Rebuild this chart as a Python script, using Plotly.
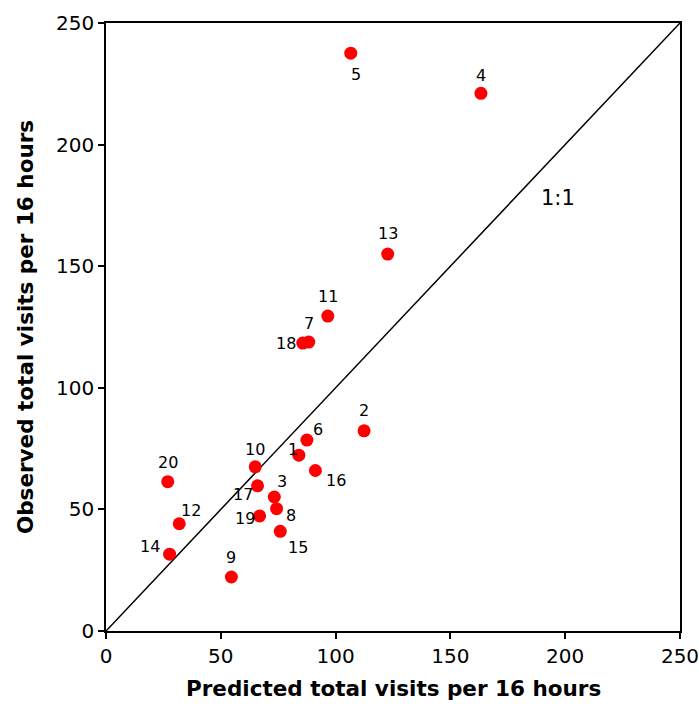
import plotly.graph_objects as go

# Data
site_ids = ["1", "2", "3", "4", "5", "6", "7", "8", "9", "10",
            "11", "12", "13", "14", "15", "16", "17", "18", "19", "20"]
predicted = [84.0, 112.4, 73.3, 163.3, 106.6, 87.5, 88.3, 74.3, 54.6, 65.0,
             96.6, 31.9, 122.7, 27.7, 75.9, 91.2, 66.0, 85.7, 66.9, 26.9]
observed = [72.3, 82.3, 55.1, 221.1, 237.6, 78.5, 118.8, 50.3, 22.2, 67.5,
            129.5, 44.1, 155.0, 31.6, 41.0, 66.0, 59.7, 118.4, 47.3, 61.4]
# label offsets in pixels (dx right, dy down)
label_dx = [-6, 0, 8, 0, 5, 11, 0, 14, 0, 0, 0, 12, 0, -20, 18, 21, -15, -17, -15, 0]
label_dy = [-6, -20, -16, -18, 21, -11, -19, 7, -20, -17, -20, -13, -21, -8, 16, 10, 9, 0, 3, -19]

line_x = [0, 250]
line_y = [0, 250]
tick_vals = [0, 50, 100, 150, 200, 250]

FONT = "DejaVu Sans"

fig = go.Figure()
fig.add_trace(go.Scatter(x=line_x, y=line_y, mode="lines",
                         line=dict(color="black", width=1.5), hoverinfo="skip",
                         showlegend=False))
fig.add_trace(go.Scatter(x=predicted, y=observed, mode="markers",
                         marker=dict(color="#ff0000", size=13),
                         showlegend=False))

for sid, px, py, dx, dy in zip(site_ids, predicted, observed, label_dx, label_dy):
    fig.add_annotation(x=px, y=py, text=sid, showarrow=False,
                       xshift=dx, yshift=-dy,
                       font=dict(family=FONT, size=16, color="black"))

fig.add_annotation(x=197, y=178, text="1:1", showarrow=False,
                   font=dict(family=FONT, size=21, color="black"))

# axis titles
fig.add_annotation(xref="paper", yref="paper", x=0.5, y=-0.094,
                   text="<b>Predicted total visits per 16 hours</b>", showarrow=False,
                   xanchor="center", yanchor="middle",
                   font=dict(family=FONT, size=21.5, color="black"))
fig.add_annotation(xref="paper", yref="paper", x=-0.141, y=0.5, textangle=-90,
                   text="<b>Observed total visits per 16 hours</b>", showarrow=False,
                   xanchor="center", yanchor="middle",
                   font=dict(family=FONT, size=21.5, color="black"))

axis_common = dict(range=[0, 250], tickvals=tick_vals, showgrid=False, zeroline=False,
                   showline=True, linecolor="black", linewidth=1.5, mirror=True,
                   ticks="outside", ticklen=6, tickcolor="black", tickwidth=1.5,
                   automargin=False, ticklabeloverflow="allow",
                   tickfont=dict(family=FONT, size=20, color="black"))

fig.update_xaxes(**axis_common)
fig.update_yaxes(**axis_common)

fig.update_layout(width=699, height=704,
                  margin=dict(l=106, r=19, t=23, b=73),
                  plot_bgcolor="white", paper_bgcolor="white")

fig.write_html("out.html")
